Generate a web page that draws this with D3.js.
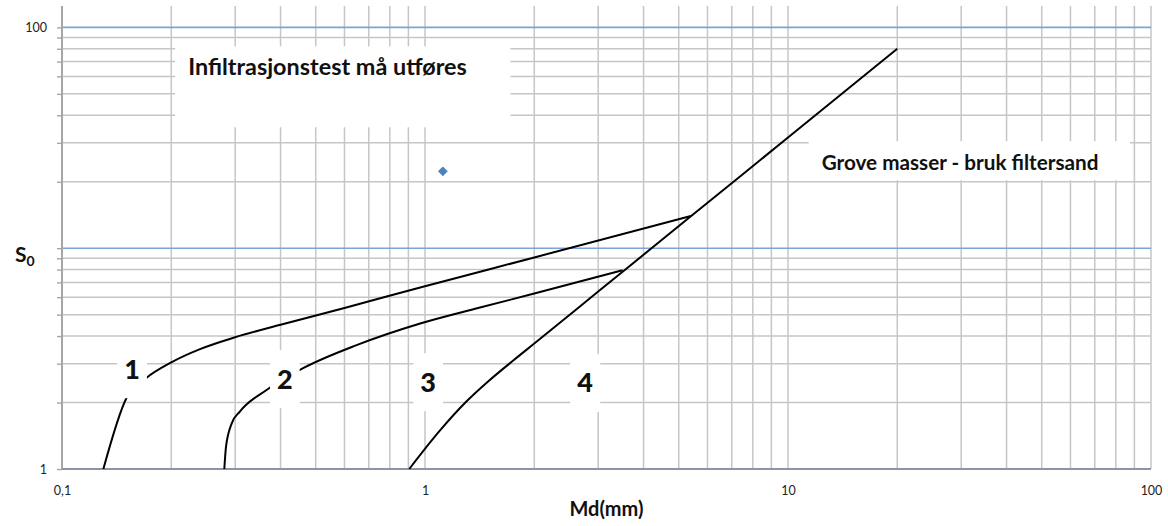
<!DOCTYPE html>
<html lang="no">
<head>
  <meta charset="UTF-8">
  <title>Md / S0</title>
  <script src="https://cdn.jsdelivr.net/npm/d3@7"></script>
  <style>
    html, body {
      margin: 0;
      padding: 0;
      background: #fff;
    }
    svg {
      display: block;
      font-family: Lato, "Open Sans", sans-serif;
    }
  </style>
</head>
<body>
  <svg id="chart" width="1168" height="526"></svg>
  <script>
    // grensekurver, lest av bildet (Md i mm, S0)
    const curve1Md = [0.13, 0.151, 0.17, 0.2, 0.24, 0.3, 0.4, 0.6, 0.97, 2, 5.4];
    const curve1S0 = [1, 2.12, 2.57, 3.04, 3.49, 3.95, 4.5, 5.36, 6.64, 9.08, 14.0];

    const curve2Md = [0.28, 0.283, 0.2935, 0.309, 0.366, 0.463, 0.648, 0.97, 1.4, 2, 3.5];
    const curve2S0 = [1, 1.26, 1.61, 1.82, 2.28, 2.87, 3.64, 4.56, 5.36, 6.23, 7.95];

    const curve4Md = [0.905, 1.1, 1.3, 1.5, 1.75, 2, 3, 5.4, 10, 20];
    const curve4S0 = [1, 1.495, 2.02, 2.51, 3.1, 3.7, 6.36, 13.95, 31.7, 80];

    // målt prøve
    const sampleMd = [1.12];
    const sampleS0 = [22.3];

    // områdenummer
    const zoneText = ['1', '2', '3', '4'];
    const zoneMd = [0.156, 0.411, 1.02, 2.76];
    const zoneS0 = [2.86, 2.58, 2.5, 2.48];

    // tekstbokser
    const noteText = ['Infiltrasjonstest må utføres', 'Grove masser - bruk filtersand'];
    const noteMdLeft = [0.205, 11.4];
    const noteMdRight = [1.72, 87.5];
    const noteS0Top = [82, 30.5];
    const noteS0Bottom = [35.3, 20.3];
    const noteFontSize = [23.4, 20.7];

    const xTickValues = [0.1, 1, 10, 100];
    const xTickLabels = ['0,1', '1', '10', '100'];
    const yTickValues = [1, 100];
    const yTickLabels = ['1', '100'];

    const width = 1168, height = 526;
    const margin = {top: 6, right: 17, bottom: 57, left: 62};

    const svg = d3.select('#chart');

    const x = d3.scaleLog()
      .domain([0.1, 100])
      .range([margin.left, width - margin.right]);

    const y = d3.scaleLog()
      .domain([1, 125])
      .range([height - margin.bottom, margin.top]);

    const x0 = x(0.1), x1 = x(100), yBase = y(1);
    const isMajor = d => Math.abs(d - 10) < 1e-6 || Math.abs(d - 100) < 1e-6;

    // rutenett
    const grid = svg.append('g');
    grid.selectAll('line.v')
      .data(x.ticks().filter(t => t > 0.1001))
      .enter().append('line')
      .attr('x1', d => x(d)).attr('x2', d => x(d))
      .attr('y1', margin.top).attr('y2', yBase)
      .attr('stroke', '#c6c6c6')
      .attr('stroke-width', 1.5);

    const yGrid = y.ticks().filter(t => t > 1.0001 && t <= 100.0001);
    grid.selectAll('line.h')
      .data(yGrid)
      .enter().append('line')
      .attr('x1', x0).attr('x2', x1)
      .attr('y1', d => y(d)).attr('y2', d => y(d))
      .attr('stroke', d => isMajor(d) ? '#7ea3d6' : '#c6c6c6')
      .attr('stroke-width', d => isMajor(d) ? 1.6 : 1.5);

    // akser
    const yAxis = svg.append('g')
      .attr('transform', `translate(${x0},0)`)
      .call(d3.axisLeft(y)
        .tickValues(y.ticks().filter(t => t <= 100.0001))
        .tickSize(5)
        .tickFormat(''));
    yAxis.select('.domain').remove();
    yAxis.selectAll('.tick line').attr('stroke', '#a6a6a6').attr('stroke-width', 1.4);
    svg.append('line')
      .attr('x1', x0).attr('x2', x0)
      .attr('y1', margin.top).attr('y2', yBase + 1)
      .attr('stroke', '#a6a6a6')
      .attr('stroke-width', 2);

    svg.append('line')
      .attr('x1', x0).attr('x2', x1)
      .attr('y1', yBase).attr('y2', yBase)
      .attr('stroke', '#8b95a5')
      .attr('stroke-width', 2);

    const xAxis = svg.append('g')
      .attr('transform', `translate(0,${yBase})`)
      .call(d3.axisBottom(x)
        .tickValues(xTickValues)
        .tickSize(0)
        .tickPadding(17)
        .tickFormat((d, i) => xTickLabels[i]));
    xAxis.select('.domain').remove();
    xAxis.selectAll('text')
      .attr('font-family', 'Lato, "Open Sans", sans-serif')
      .attr('font-size', 12.5)
      .attr('fill', '#222');

    const yLabels = svg.append('g')
      .attr('transform', `translate(${x0 - 15},0)`)
      .call(d3.axisLeft(y)
        .tickValues(yTickValues)
        .tickSize(0)
        .tickPadding(0)
        .tickFormat((d, i) => yTickLabels[i]));
    yLabels.select('.domain').remove();
    yLabels.selectAll('text')
      .attr('font-family', 'Lato, "Open Sans", sans-serif')
      .attr('font-size', 12.5)
      .attr('fill', '#222');

    // kurver
    const line = d3.line()
      .x(d => x(d[0]))
      .y(d => y(d[1]))
      .curve(d3.curveMonotoneX);

    const curves = [
      d3.zip(curve1Md, curve1S0),
      d3.zip(curve2Md, curve2S0),
      d3.zip(curve4Md, curve4S0)
    ];

    svg.append('g').selectAll('path')
      .data(curves)
      .enter().append('path')
      .attr('d', line)
      .attr('fill', 'none')
      .attr('stroke', '#000')
      .attr('stroke-width', 2);

    // prøvepunkt
    svg.append('g').selectAll('path')
      .data(d3.zip(sampleMd, sampleS0))
      .enter().append('path')
      .attr('d', d3.symbol(d3.symbolSquare, 48))
      .attr('transform', d => `translate(${x(d[0])},${y(d[1])}) rotate(45)`)
      .attr('fill', '#4f81bd');

    // tekstbokser
    const notes = svg.append('g');
    noteText.forEach((t, i) => {
      const left = x(noteMdLeft[i]), right = x(noteMdRight[i]);
      const top = y(noteS0Top[i]), bottom = y(noteS0Bottom[i]);
      notes.append('rect')
        .attr('x', left).attr('y', top)
        .attr('width', right - left).attr('height', bottom - top)
        .attr('fill', '#fff');
      notes.append('text')
        .attr('x', left + 13)
        .attr('y', top + 29)
        .attr('font-size', noteFontSize[i])
        .attr('font-weight', 'bold')
        .attr('fill', '#111')
        .text(t);
    });

    // områdenummer
    const zones = svg.append('g');
    zoneText.forEach((t, i) => {
      const cx = x(zoneMd[i]), cy = y(zoneS0[i]);
      const rect = zones.append('rect').attr('fill', '#fff');
      const txt = zones.append('text')
        .attr('x', cx)
        .attr('y', cy)
        .attr('text-anchor', 'middle')
        .attr('dominant-baseline', 'central')
        .attr('font-size', 27)
        .attr('font-weight', 900)
        .attr('fill', '#111')
        .text(t);
      const bb = txt.node().getBBox();
      rect.attr('x', bb.x - 7).attr('width', bb.width + 14)
        .attr('y', cy - 28).attr('height', 58);
    });

    // aksetitler
    svg.append('text')
      .attr('x', (x0 + x1) / 2)
      .attr('y', 516)
      .attr('text-anchor', 'middle')
      .attr('font-size', 20)
      .attr('font-weight', 'bold')
      .attr('fill', '#111')
      .text('Md(mm)');

    const s0 = svg.append('text')
      .attr('x', 15)
      .attr('y', y(10) + 14)
      .attr('font-size', 21)
      .attr('font-weight', 'bold')
      .attr('fill', '#111');
    s0.append('tspan').text('S');
    s0.append('tspan')
      .attr('font-size', 14)
      .attr('dy', 4)
      .text('0');
  </script>
</body>
</html>
